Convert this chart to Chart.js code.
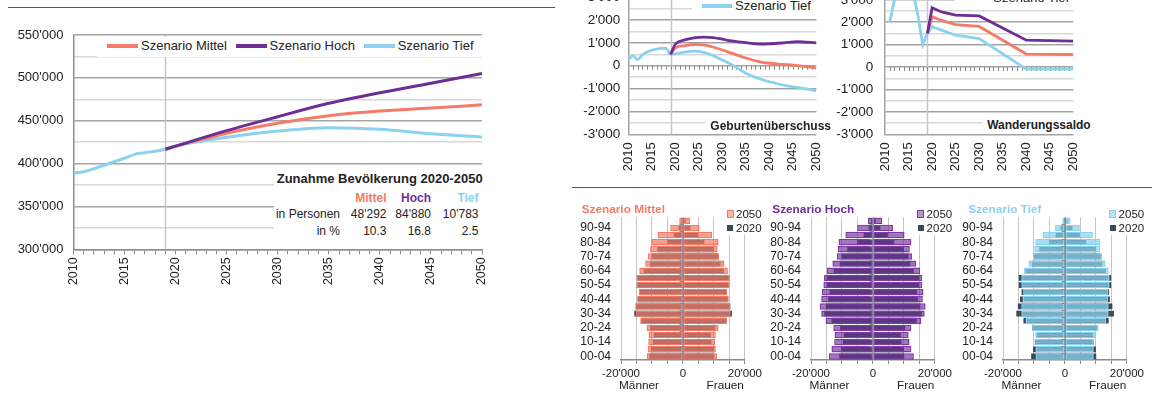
<!DOCTYPE html>
<html lang="de">
<head>
<meta charset="utf-8">
<title>Bevölkerungsszenarien 2020-2050</title>
<script src="https://cdn.jsdelivr.net/npm/chart.js@4.4.1/dist/chart.umd.min.js"></script>
<style>
  html, body { margin: 0; padding: 0; }
  body { width: 1152px; height: 403px; overflow: hidden; position: relative; background: #fff;
         font-family: "Liberation Sans", Arial, sans-serif; color: #222; }
  .cv { position: absolute; }
  .t { position: absolute; white-space: nowrap; line-height: 16px; height: 16px; }
  .b { font-weight: bold; }
  .box { position: absolute; background: #fff; }
  .sw { position: absolute; }
  .rule { position: absolute; height: 1.5px; background: #5a5a5a; }
</style>
</head>
<body>
<div class="rule" style="left:8px;top:6.5px;width:547px"></div>
<div class="rule" style="left:572px;top:186.5px;width:580px"></div>

<!-- Bevölkerung -->
<div class="cv" style="left:0;top:0;width:500px;height:310px"><canvas id="popChart"></canvas></div>
<div class="box" style="left:97px;top:37px;width:387px;height:19.5px"></div>
<div class="sw" style="left:107px;top:44.3px;width:31px;height:3.5px;background:#F37B67"></div>
<div class="t" style="left:141px;top:38px;font-size:13px">Szenario Mittel</div>
<div class="sw" style="left:236px;top:44.3px;width:31px;height:3.5px;background:#6F2D95"></div>
<div class="t" style="left:269.6px;top:38px;font-size:13px">Szenario Hoch</div>
<div class="sw" style="left:364px;top:44.3px;width:31px;height:3.5px;background:#8AD2F0"></div>
<div class="t" style="left:397.7px;top:38px;font-size:13px">Szenario Tief</div>

<div class="box" style="left:274px;top:169px;width:210px;height:79px"></div>
<div class="t b" style="left:276.7px;top:171px;font-size:13px">Zunahme Bevölkerung 2020-2050</div>
<div class="t b" style="right:765.5px;top:189.7px;font-size:12px;color:#F37B67">Mittel</div>
<div class="t b" style="right:721px;top:189.7px;font-size:12px;color:#6F2D95">Hoch</div>
<div class="t b" style="right:673.5px;top:189.7px;font-size:12px;color:#8AD2F0">Tief</div>
<div class="t" style="right:812px;top:206.3px;font-size:12px">in Personen</div>
<div class="t" style="right:765.5px;top:206.3px;font-size:12px">48'292</div>
<div class="t" style="right:721px;top:206.3px;font-size:12px">84'880</div>
<div class="t" style="right:673.5px;top:206.3px;font-size:12px">10'783</div>
<div class="t" style="right:812px;top:223px;font-size:12px">in %</div>
<div class="t" style="right:765.5px;top:223px;font-size:12px">10.3</div>
<div class="t" style="right:721px;top:223px;font-size:12px">16.8</div>
<div class="t" style="right:673.5px;top:223px;font-size:12px">2.5</div>

<!-- Geburtenüberschuss -->
<div class="cv" style="left:560px;top:-20px;width:280px;height:200px"><canvas id="birthChart"></canvas></div>
<div class="box" style="left:692px;top:-25px;width:140px;height:39px"></div>
<div class="sw" style="left:640px;top:-11.5px;width:30px;height:3.5px;background:#F37B67"></div>
<div class="t" style="left:673px;top:-18px;font-size:13px">Szenario Mittel</div>
<div class="sw" style="left:760px;top:-11.5px;width:30px;height:3.5px;background:#6F2D95"></div>
<div class="t" style="left:793px;top:-18px;font-size:13px">Szenario Hoch</div>
<div class="sw" style="left:701.7px;top:4px;width:30px;height:3.5px;background:#8AD2F0"></div>
<div class="t" style="left:735px;top:-2.3px;font-size:13px">Szenario Tief</div>
<div class="t b" style="right:321px;top:118px;font-size:12px;background:#fff;padding-left:5px">Geburtenüberschuss</div>

<!-- Wanderungssaldo -->
<div class="cv" style="left:817px;top:-20px;width:280px;height:200px"><canvas id="migChart"></canvas></div>
<div class="box" style="left:955px;top:-25px;width:135px;height:30px"></div>
<div class="sw" style="left:900px;top:-19px;width:30px;height:3.5px;background:#F37B67"></div>
<div class="t" style="left:933px;top:-25px;font-size:13px">Szenario Mittel</div>
<div class="sw" style="left:960px;top:-4.2px;width:30px;height:3.5px;background:#8AD2F0"></div>
<div class="t" style="left:993.3px;top:-10.5px;font-size:13px">Szenario Tief</div>
<div class="t b" style="right:61.3px;top:117px;font-size:12px;background:#fff;padding-left:5px">Wanderungssaldo</div>

<!-- Alterspyramiden -->
<div class="cv" style="left:565.7px;top:200px;width:199px;height:190px"><canvas id="pyrMittel"></canvas></div>
<div class="cv" style="left:756.3px;top:200px;width:199px;height:190px"><canvas id="pyrHoch"></canvas></div>
<div class="cv" style="left:948.3px;top:200px;width:199px;height:190px"><canvas id="pyrTief"></canvas></div>

<div class="t b" style="left:581.7px;top:201px;font-size:11.8px;color:#F37B67">Szenario Mittel</div>
<div class="t b" style="left:772.3px;top:201px;font-size:11.8px;color:#6F2D95">Szenario Hoch</div>
<div class="t b" style="left:968.3px;top:201px;font-size:11.8px;color:#8AD2F0">Szenario Tief</div>

<div class="box" style="left:724px;top:206px;width:42px;height:29px"></div>
<div class="sw" style="left:726.7px;top:210px;width:5px;height:5.5px;background:rgba(243,123,103,0.55);border:1.5px solid #F37B67"></div>
<div class="t" style="left:736px;top:206px;font-size:11.5px">2050</div>
<div class="sw" style="left:727px;top:225px;width:6px;height:6px;background:#394B59"></div>
<div class="t" style="left:736px;top:220px;font-size:11.5px">2020</div>

<div class="box" style="left:914.6px;top:206px;width:42px;height:29px"></div>
<div class="sw" style="left:917.3px;top:210px;width:5px;height:5.5px;background:rgba(111,45,149,0.5);border:1.5px solid #7D3BAA"></div>
<div class="t" style="left:926.6px;top:206px;font-size:11.5px">2050</div>
<div class="sw" style="left:917.6px;top:225px;width:6px;height:6px;background:#394B59"></div>
<div class="t" style="left:926.6px;top:220px;font-size:11.5px">2020</div>

<div class="box" style="left:1106.6px;top:206px;width:45px;height:29px"></div>
<div class="sw" style="left:1109.3px;top:210px;width:5px;height:5.5px;background:rgba(138,210,240,0.6);border:1.5px solid #8AD2F0"></div>
<div class="t" style="left:1118.6px;top:206px;font-size:11.5px">2050</div>
<div class="sw" style="left:1109.6px;top:225px;width:6px;height:6px;background:#394B59"></div>
<div class="t" style="left:1118.6px;top:220px;font-size:11.5px">2020</div>

<div class="t" style="left:619px;top:377px;font-size:11.8px">Männer</div>
<div class="t" style="left:706.5px;top:377px;font-size:11.8px">Frauen</div>
<div class="t" style="left:809.5px;top:377px;font-size:11.8px">Männer</div>
<div class="t" style="left:897px;top:377px;font-size:11.8px">Frauen</div>
<div class="t" style="left:1001.5px;top:377px;font-size:11.8px">Männer</div>
<div class="t" style="left:1089px;top:377px;font-size:11.8px">Frauen</div>

<script>
// Bevölkerung (Personen)
const histYears = [2010, 2011, 2012, 2013, 2014, 2015, 2016, 2017, 2018, 2019];
const popHist = [388700, 390500, 394000, 398000, 402200, 406200, 410800, 412700, 414300, 416700];
const scenYears = [2019, 2020, 2025, 2030, 2035, 2040, 2045, 2050];
const popMittel = [416700, 420300, 435300, 447000, 455900, 461300, 464700, 468600];
const popHoch = [416700, 420300, 438400, 454700, 470300, 482700, 493700, 505200];
const popTief = [416700, 420300, 430700, 438000, 441900, 440000, 434800, 431100];

// Geburtenüberschuss
const birthHistYears = [2010, 2011, 2012, 2013, 2014, 2015, 2016, 2017, 2018, 2019];
const birthHist = [260, 430, 270, 490, 600, 680, 730, 760, 770, 500];
const birthYears = [2019, 2020, 2022, 2024, 2026, 2028, 2030, 2032, 2035, 2038, 2040, 2043, 2046, 2050];
const birthMittel = [500, 780, 880, 930, 910, 820, 690, 550, 340, 170, 110, 60, 10, -100];
const birthHoch = [500, 940, 1130, 1220, 1250, 1230, 1160, 1090, 1010, 950, 960, 1000, 1050, 1000];
const birthTief = [500, 520, 600, 640, 590, 450, 250, 50, -330, -580, -700, -850, -950, -1100];

// Wanderungssaldo
const migHistYears = [2011, 2012, 2013, 2014, 2015, 2016, 2017, 2018, 2019];
const migHist = [2000, 3000, 3400, 3300, 3200, 3300, 2300, 1000, 1500];
const migYears = [2019, 2020, 2022, 2025, 2030, 2040, 2050];
const migMittel = [1500, 2250, 2080, 1890, 1810, 580, 560];
const migHoch = [1500, 2650, 2460, 2320, 2280, 1200, 1160];
const migTief = [1500, 1800, 1650, 1420, 1270, -90, -90];

// Altersstruktur (Personen je Altersgruppe)
const ageGroups = ['00-04', '05-09', '10-14', '15-19', '20-24', '25-29', '30-34', '35-39', '40-44', '45-49',
                   '50-54', '55-59', '60-64', '65-69', '70-74', '75-79', '80-84', '85-89', '90-94', '95+'];
const men2020 = [10900, 10300, 9700, 9400, 10600, 13400, 15700, 15200, 14500, 14000,
                 14900, 14900, 12700, 10700, 10100, 8300, 5100, 3000, 1400, 600];
const women2020 = [10100, 10000, 9200, 9000, 10400, 14100, 15800, 15300, 14500, 14200,
                   14900, 14900, 13200, 12100, 11500, 10000, 6900, 4800, 2400, 900];
const menMittel = [11700, 11300, 11200, 11100, 11700, 13800, 15200, 15400, 14800, 14300,
                   14900, 14900, 14100, 12200, 11300, 10600, 10200, 8200, 4100, 1200];
const womenMittel = [11000, 10600, 10400, 10600, 11500, 14200, 15400, 15300, 14800, 14300,
                     14900, 15100, 14500, 13400, 11700, 11200, 11500, 9400, 5400, 2300];
const menHoch = [14200, 13400, 12500, 12400, 12800, 15300, 16700, 17200, 16700, 16500,
                 16000, 15800, 14900, 13100, 11700, 11300, 11100, 8900, 5100, 1600];
const womenHoch = [13200, 12400, 11800, 11500, 12400, 15600, 16700, 17000, 16100, 16300,
                   15900, 15900, 15200, 14000, 12600, 11900, 12400, 10200, 6500, 3000];
const menTief = [9500, 9500, 9600, 9500, 10600, 12700, 14100, 14100, 13700, 13500,
                 14100, 14100, 13300, 11800, 10300, 9900, 9600, 7200, 3200, 850];
const womenTief = [9300, 9300, 9300, 9700, 10800, 13300, 14100, 14100, 13900, 13900,
                   14400, 14400, 14100, 13100, 12000, 11400, 11400, 9000, 4800, 1800];

const C = { mittel: '#F37B67', hoch: '#6F2D95', tief: '#8AD2F0', base: '#394B59' };

Chart.defaults.font.family = '"Liberation Sans", Arial, sans-serif';
Chart.defaults.color = '#222';
Chart.defaults.animation = false;

function fmt(v) {
    const s = Math.abs(v).toString().replace(/\B(?=(\d{3})+(?!\d))/g, "'");
    return (v < 0 ? '-' : '') + s;
}

function pts(xs, ys) {
    return xs.map((x, i) => ({ x: x, y: ys[i] }));
}

// Referenzlinie 2019, Teilstriche auf der Nulllinie, Mittelachse der Pyramiden
const decor = {
    id: 'decor',
    beforeDatasetsDraw(chart, args, opts) {
        const { ctx, chartArea: a, scales } = chart;
        ctx.save();
        if (opts.refYear) {
            const x = Math.round(scales.x.getPixelForValue(opts.refYear)) + 0.5;
            ctx.strokeStyle = '#c6c6c6';
            ctx.lineWidth = 1.5;
            ctx.beginPath();
            ctx.moveTo(x, a.top);
            ctx.lineTo(x, a.bottom);
            ctx.stroke();
        }
        if (opts.zeroTicks) {
            const y0 = scales.y.getPixelForValue(0);
            ctx.strokeStyle = '#8a8a8a';
            ctx.lineWidth = 1;
            ctx.beginPath();
            for (let yr = scales.x.min + 1; yr < scales.x.max; yr++) {
                const x = Math.round(scales.x.getPixelForValue(yr)) + 0.5;
                ctx.moveTo(x, y0);
                ctx.lineTo(x, y0 + 4);
            }
            ctx.stroke();
        }
        ctx.restore();
    },
    afterDatasetsDraw(chart, args, opts) {
        if (!opts.centerLine) return;
        const { ctx, chartArea: a, scales } = chart;
        const x0 = Math.round(scales.x.getPixelForValue(0)) + 0.5;
        const n = chart.data.labels.length;
        const step = (a.bottom - a.top) / n;
        ctx.save();
        ctx.strokeStyle = '#8a8a8a';
        ctx.lineWidth = 1;
        ctx.beginPath();
        ctx.moveTo(x0, a.top);
        ctx.lineTo(x0, a.bottom);
        for (let i = 1; i < n; i++) {
            const y = Math.round(a.top + i * step) + 0.5;
            ctx.moveTo(x0 - 4, y);
            ctx.lineTo(x0, y);
        }
        ctx.stroke();
        ctx.restore();
    }
};
Chart.register(decor);

function line(label, data, color, order, curved) {
    return {
        label: label,
        data: data,
        borderColor: color,
        backgroundColor: color,
        order: order,
        cubicInterpolationMode: curved ? 'monotone' : 'default'
    };
}

// Hauptgrafik Bevölkerung
new Chart(document.getElementById('popChart'), {
    type: 'line',
    data: {
        datasets: [
            line('Szenario Hoch', pts(scenYears, popHoch), C.hoch, 0, true),
            line('Szenario Mittel', pts(scenYears, popMittel), C.mittel, 1, true),
            line('Szenario Tief', pts(histYears, popHist).concat(pts(scenYears, popTief).slice(1)), C.tief, 2, true)
        ]
    },
    options: {
        responsive: true,
        maintainAspectRatio: false,
        layout: { padding: { top: 35, right: 17.5, left: 0, bottom: 0 } },
        elements: { point: { radius: 0 }, line: { borderWidth: 3, tension: 0 } },
        plugins: { legend: { display: false }, tooltip: { enabled: false }, decor: { refYear: 2019 } },
        scales: {
            x: {
                type: 'linear', min: 2010, max: 2050,
                ticks: {
                    stepSize: 1, autoSkip: false, minRotation: 90, maxRotation: 90, padding: 3,
                    font: { size: 12.5 },
                    callback: v => v % 5 === 0 ? String(v) : ''
                },
                grid: { drawOnChartArea: false, drawTicks: true, tickLength: 5, color: '#8c8c8c' },
                border: { color: '#8c8c8c', width: 1.5 },
                afterFit: s => { s.height = 60.7; }
            },
            y: {
                min: 300000, max: 550000,
                ticks: {
                    stepSize: 25000, autoSkip: false, padding: 10, font: { size: 13 },
                    callback: v => v % 50000 === 0 ? fmt(v) : ''
                },
                grid: {
                    drawTicks: false, lineWidth: 1.5,
                    color: c => c.tick && c.tick.value % 50000 === 0 ? '#a5a5a5' : '#d8d8d8'
                },
                border: { color: '#8c8c8c', width: 1.5 },
                afterFit: s => { s.width = 73.5; }
            }
        }
    }
});

function smallChart(id, datasets, yWidth, rightPad, yPad) {
    return new Chart(document.getElementById(id), {
        type: 'line',
        data: { datasets: datasets },
        options: {
            responsive: true,
            maintainAspectRatio: false,
            layout: { padding: { top: 17.2, right: rightPad, left: 0, bottom: 0 } },
            elements: { point: { radius: 0 }, line: { borderWidth: 2.8, tension: 0 } },
            plugins: {
                legend: { display: false }, tooltip: { enabled: false },
                decor: { refYear: 2019, zeroTicks: true }
            },
            scales: {
                x: {
                    type: 'linear', min: 2010, max: 2050,
                    ticks: {
                        stepSize: 1, autoSkip: false, minRotation: 90, maxRotation: 90, padding: 8,
                        font: { size: 13 },
                        callback: v => v % 5 === 0 ? String(v) : ''
                    },
                    grid: { display: false, drawTicks: false },
                    border: { display: false },
                    afterFit: s => { s.height = 45.7; }
                },
                y: {
                    min: -3000, max: 3000,
                    ticks: {
                        stepSize: 500, autoSkip: false, padding: yPad, font: { size: 13.5 },
                        callback: v => v % 1000 === 0 ? fmt(v) : ''
                    },
                    grid: {
                        drawTicks: false, lineWidth: 1.5,
                        color: c => c.tick && c.tick.value % 1000 === 0 ? '#a3a3a3' : '#d8d8d8'
                    },
                    border: { color: '#a3a3a3', width: 1.5 },
                    afterFit: s => { s.width = yWidth; }
                }
            }
        }
    });
}

smallChart('birthChart', [
    line('Szenario Hoch', pts(birthYears, birthHoch), C.hoch, 0, true),
    line('Szenario Mittel', pts(birthYears, birthMittel), C.mittel, 1, true),
    line('Szenario Tief', pts(birthHistYears, birthHist).concat(pts(birthYears, birthTief).slice(1)), C.tief, 2, true)
], 68.3, 11.7, 8);

smallChart('migChart', [
    line('Szenario Hoch', pts(migYears, migHoch), C.hoch, 0, false),
    line('Szenario Mittel', pts(migYears, migMittel), C.mittel, 1, false),
    line('Szenario Tief', pts(migHistYears, migHist).concat(pts(migYears, migTief).slice(1)), C.tief, 2, false)
], 68, 11.3, 11.7);

function pyramid(id, men2050, women2050, fill, border) {
    const bar2050 = { backgroundColor: fill, borderColor: border, borderWidth: 1.5, borderSkipped: false,
                      barPercentage: 0.9, categoryPercentage: 1, grouped: false, order: 0 };
    const bar2020 = { backgroundColor: C.base, borderWidth: 0,
                      barPercentage: 0.8, categoryPercentage: 1, grouped: false, order: 1 };
    return new Chart(document.getElementById(id), {
        type: 'bar',
        data: {
            labels: ageGroups,
            datasets: [
                Object.assign({ label: '2050 Männer', data: men2050.map(v => -v) }, bar2050),
                Object.assign({ label: '2050 Frauen', data: women2050 }, bar2050),
                Object.assign({ label: '2020 Männer', data: men2020.map(v => -v) }, bar2020),
                Object.assign({ label: '2020 Frauen', data: women2020 }, bar2020)
            ]
        },
        options: {
            indexAxis: 'y',
            responsive: true,
            maintainAspectRatio: false,
            layout: { padding: { top: 12.5, right: 20, left: 0, bottom: 0 } },
            plugins: { legend: { display: false }, tooltip: { enabled: false }, decor: { centerLine: true } },
            scales: {
                x: {
                    min: -20000, max: 20000,
                    ticks: {
                        stepSize: 5000, autoSkip: false, padding: 3, maxRotation: 0, font: { size: 11.5 },
                        callback: v => v % 20000 === 0 ? fmt(v) : ''
                    },
                    grid: { color: '#c4c4c4', lineWidth: 1, drawTicks: true, tickLength: 4, tickColor: '#8a8a8a' },
                    border: { color: '#8a8a8a', width: 1.5 },
                    afterFit: s => { s.height = 30; }
                },
                y: {
                    reverse: true,
                    ticks: {
                        autoSkip: false, padding: 10, font: { size: 12 },
                        callback: function(v, i) { return i % 2 === 0 ? this.getLabelForValue(v) : ''; }
                    },
                    grid: { display: false, drawTicks: false },
                    border: { display: false },
                    afterFit: s => { s.width = 55; }
                }
            }
        }
    });
}

pyramid('pyrMittel', menMittel, womenMittel, 'rgba(243,123,103,0.74)', C.mittel);
pyramid('pyrHoch', menHoch, womenHoch, 'rgba(111,45,149,0.66)', '#7D3BAA');
pyramid('pyrTief', menTief, womenTief, 'rgba(138,210,240,0.75)', C.tief);
</script>
</body>
</html>
